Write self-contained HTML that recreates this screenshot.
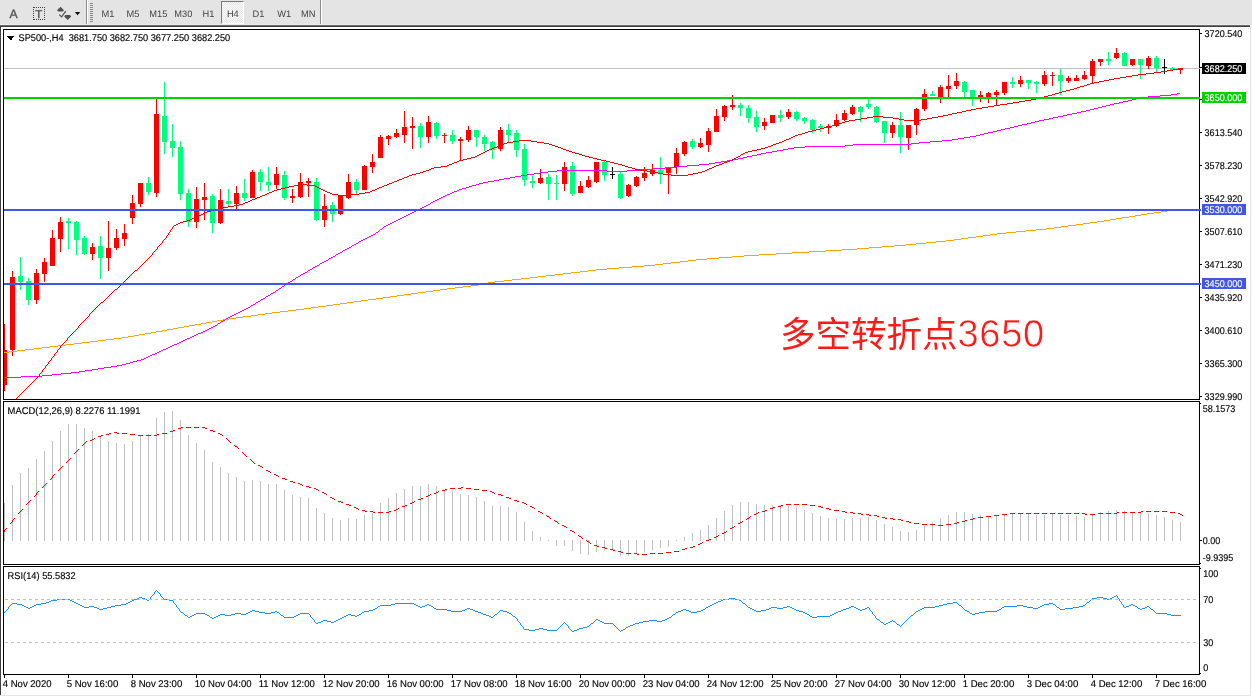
<!DOCTYPE html><html><head><meta charset="utf-8"><title>SP500-,H4</title>
<style>
html,body{margin:0;padding:0;background:#fff;}
body{width:1252px;height:697px;overflow:hidden;position:relative;font-family:"Liberation Sans", sans-serif;}
#tb{position:absolute;left:0;top:0;width:1252px;height:25px;background:#e4e4e4;}
#tb .b{position:absolute;top:1px;height:25px;line-height:26px;width:25px;text-align:center;font-size:9.3px;color:#444;}
#win{position:absolute;left:0;top:25px;width:1252px;height:672px;background:#fff;}
svg{position:absolute;left:0;top:0;will-change:transform;}
.t{font-family:"Liberation Sans", sans-serif;font-size:9.3px;fill:#000;text-rendering:geometricPrecision;}
</style></head><body>
<div id="tb">
<div style="position:absolute;left:33px;top:7px;width:12px;height:13px;border:1px dotted #444;box-sizing:border-box;"></div>
<div style="position:absolute;left:86px;top:0;width:1px;height:25px;background:#8c8c8c;"></div>
<div style="position:absolute;left:87px;top:0;width:1px;height:25px;background:#fff;"></div>
<div style="position:absolute;left:90px;top:3px;width:3px;height:19px;background:repeating-linear-gradient(#8a8a8a 0 1px,#e4e4e4 1px 2px);"></div>
<div style="position:absolute;left:221px;top:1px;width:23px;height:23px;box-sizing:border-box;border:1px solid;border-color:#787878 #fff #fff #787878;background:repeating-conic-gradient(#fbfbfb 0 25%,#e6e6e6 0 50%) 0 0/2px 2px;"></div>
<div style="position:absolute;left:320px;top:0;width:1px;height:25px;background:#8c8c8c;"></div>
<div style="position:absolute;left:321px;top:0;width:1px;height:25px;background:#fff;"></div>
</div>
<div id="win"></div>
<svg width="1252" height="697" viewBox="0 0 1252 697" shape-rendering="crispEdges">
<path d="M60.5 6.8 L64 10.3 L62.8 11.5 L58.2 11.5 L57 10.3 Z" fill="#505050" shape-rendering="auto"/>
<path d="M65.3 15.1 L70 15.1 L71.2 16.4 L67.7 19.9 L64.2 16.4 Z" fill="#505050" shape-rendering="auto"/>
<path d="M59.3 14.6 L61.6 16.9 L65.8 11.2" fill="none" stroke="#505050" stroke-width="1.2" shape-rendering="auto"/>
<path d="M74.8 12 L80.3 12 L77.55 15.3 Z" fill="#111" shape-rendering="auto"/>
<text class="t" x="9.6" y="17.7" style="font-size:12.2px;fill:#555;stroke:#555;stroke-width:0.35px">A</text>
<text class="t" x="35.3" y="17.7" style="font-size:11.4px;fill:#505050;stroke:#505050;stroke-width:0.35px">T</text>
<text class="t" text-anchor="middle" transform="translate(107.90 16.6) scale(0.99 1)" style="font-size:9.4px;fill:#444">M1</text>
<text class="t" text-anchor="middle" transform="translate(133.00 16.6) scale(0.99 1)" style="font-size:9.4px;fill:#444">M5</text>
<text class="t" text-anchor="middle" transform="translate(158.30 16.6) scale(0.99 1)" style="font-size:9.4px;fill:#444">M15</text>
<text class="t" text-anchor="middle" transform="translate(183.40 16.6) scale(0.99 1)" style="font-size:9.4px;fill:#444">M30</text>
<text class="t" text-anchor="middle" transform="translate(208.50 16.6) scale(0.99 1)" style="font-size:9.4px;fill:#444">H1</text>
<text class="t" text-anchor="middle" transform="translate(232.80 16.6) scale(0.99 1)" style="font-size:9.4px;fill:#444">H4</text>
<text class="t" text-anchor="middle" transform="translate(258.50 16.6) scale(0.99 1)" style="font-size:9.4px;fill:#444">D1</text>
<text class="t" text-anchor="middle" transform="translate(284.20 16.6) scale(0.99 1)" style="font-size:9.4px;fill:#444">W1</text>
<text class="t" text-anchor="middle" transform="translate(308.20 16.6) scale(0.99 1)" style="font-size:9.4px;fill:#444">MN</text>
<rect x="0" y="24" width="1252" height="1" fill="#ebebeb"/>
<rect x="0" y="25" width="1250" height="1" fill="#6e6e6e"/>
<rect x="0" y="26" width="1250" height="1" fill="#3e3e3e"/>
<rect x="1250" y="25" width="2" height="2" fill="#f4f4f4"/>
<rect x="0" y="27" width="1" height="668" fill="#404040"/>
<rect x="1250" y="27" width="1" height="669" fill="#e4e4e4"/>
<rect x="0" y="695" width="1251" height="1" fill="#e4e4e4"/>
<rect x="3" y="29" width="1197" height="1" fill="#000"/>
<rect x="3" y="399" width="1197" height="1" fill="#000"/>
<rect x="3" y="29" width="1" height="371" fill="#000"/>
<rect x="1199" y="29" width="1" height="371" fill="#000"/>
<rect x="3" y="401" width="1197" height="1" fill="#000"/>
<rect x="3" y="564" width="1197" height="1" fill="#000"/>
<rect x="3" y="401" width="1" height="164" fill="#000"/>
<rect x="1199" y="401" width="1" height="164" fill="#000"/>
<rect x="3" y="566" width="1197" height="1" fill="#000"/>
<rect x="3" y="674" width="1197" height="1" fill="#000"/>
<rect x="3" y="566" width="1" height="109" fill="#000"/>
<rect x="1199" y="566" width="1" height="109" fill="#000"/>
<rect x="4" y="68" width="1195" height="1" fill="#c0c0c0"/>
<defs><clipPath id="cp"><rect x="4" y="30" width="1195" height="644"/></clipPath></defs><g clip-path="url(#cp)"><rect x="4" y="503" width="1" height="38" fill="#c0c0c0"/>
<rect x="12" y="485" width="1" height="56" fill="#c0c0c0"/>
<rect x="20" y="473" width="1" height="68" fill="#c0c0c0"/>
<rect x="28" y="468" width="1" height="73" fill="#c0c0c0"/>
<rect x="36" y="459" width="1" height="82" fill="#c0c0c0"/>
<rect x="44" y="451" width="1" height="90" fill="#c0c0c0"/>
<rect x="52" y="441" width="1" height="100" fill="#c0c0c0"/>
<rect x="60" y="431" width="1" height="110" fill="#c0c0c0"/>
<rect x="68" y="424" width="1" height="117" fill="#c0c0c0"/>
<rect x="76" y="424" width="1" height="117" fill="#c0c0c0"/>
<rect x="84" y="428" width="1" height="113" fill="#c0c0c0"/>
<rect x="92" y="431" width="1" height="110" fill="#c0c0c0"/>
<rect x="100" y="437" width="1" height="104" fill="#c0c0c0"/>
<rect x="108" y="441" width="1" height="100" fill="#c0c0c0"/>
<rect x="116" y="443" width="1" height="98" fill="#c0c0c0"/>
<rect x="124" y="444" width="1" height="97" fill="#c0c0c0"/>
<rect x="132" y="441" width="1" height="100" fill="#c0c0c0"/>
<rect x="140" y="436" width="1" height="105" fill="#c0c0c0"/>
<rect x="148" y="434" width="1" height="107" fill="#c0c0c0"/>
<rect x="156" y="418" width="1" height="123" fill="#c0c0c0"/>
<rect x="164" y="412" width="1" height="129" fill="#c0c0c0"/>
<rect x="172" y="411" width="1" height="130" fill="#c0c0c0"/>
<rect x="180" y="420" width="1" height="121" fill="#c0c0c0"/>
<rect x="188" y="435" width="1" height="106" fill="#c0c0c0"/>
<rect x="196" y="443" width="1" height="98" fill="#c0c0c0"/>
<rect x="204" y="450" width="1" height="91" fill="#c0c0c0"/>
<rect x="212" y="462" width="1" height="79" fill="#c0c0c0"/>
<rect x="220" y="467" width="1" height="74" fill="#c0c0c0"/>
<rect x="228" y="473" width="1" height="68" fill="#c0c0c0"/>
<rect x="236" y="477" width="1" height="64" fill="#c0c0c0"/>
<rect x="244" y="481" width="1" height="60" fill="#c0c0c0"/>
<rect x="252" y="480" width="1" height="61" fill="#c0c0c0"/>
<rect x="260" y="481" width="1" height="60" fill="#c0c0c0"/>
<rect x="268" y="484" width="1" height="57" fill="#c0c0c0"/>
<rect x="276" y="484" width="1" height="57" fill="#c0c0c0"/>
<rect x="284" y="490" width="1" height="51" fill="#c0c0c0"/>
<rect x="292" y="495" width="1" height="46" fill="#c0c0c0"/>
<rect x="300" y="497" width="1" height="44" fill="#c0c0c0"/>
<rect x="308" y="498" width="1" height="43" fill="#c0c0c0"/>
<rect x="316" y="508" width="1" height="33" fill="#c0c0c0"/>
<rect x="324" y="513" width="1" height="28" fill="#c0c0c0"/>
<rect x="332" y="518" width="1" height="23" fill="#c0c0c0"/>
<rect x="340" y="520" width="1" height="21" fill="#c0c0c0"/>
<rect x="348" y="518" width="1" height="23" fill="#c0c0c0"/>
<rect x="356" y="519" width="1" height="22" fill="#c0c0c0"/>
<rect x="364" y="515" width="1" height="26" fill="#c0c0c0"/>
<rect x="372" y="513" width="1" height="28" fill="#c0c0c0"/>
<rect x="380" y="503" width="1" height="38" fill="#c0c0c0"/>
<rect x="388" y="498" width="1" height="43" fill="#c0c0c0"/>
<rect x="396" y="493" width="1" height="48" fill="#c0c0c0"/>
<rect x="404" y="489" width="1" height="52" fill="#c0c0c0"/>
<rect x="412" y="486" width="1" height="55" fill="#c0c0c0"/>
<rect x="420" y="486" width="1" height="55" fill="#c0c0c0"/>
<rect x="428" y="484" width="1" height="57" fill="#c0c0c0"/>
<rect x="436" y="486" width="1" height="55" fill="#c0c0c0"/>
<rect x="444" y="490" width="1" height="51" fill="#c0c0c0"/>
<rect x="452" y="491" width="1" height="50" fill="#c0c0c0"/>
<rect x="460" y="494" width="1" height="47" fill="#c0c0c0"/>
<rect x="468" y="495" width="1" height="46" fill="#c0c0c0"/>
<rect x="476" y="497" width="1" height="44" fill="#c0c0c0"/>
<rect x="484" y="501" width="1" height="40" fill="#c0c0c0"/>
<rect x="492" y="506" width="1" height="35" fill="#c0c0c0"/>
<rect x="500" y="506" width="1" height="35" fill="#c0c0c0"/>
<rect x="508" y="507" width="1" height="34" fill="#c0c0c0"/>
<rect x="516" y="512" width="1" height="29" fill="#c0c0c0"/>
<rect x="524" y="522" width="1" height="19" fill="#c0c0c0"/>
<rect x="532" y="531" width="1" height="10" fill="#c0c0c0"/>
<rect x="540" y="537" width="1" height="4" fill="#c0c0c0"/>
<rect x="548" y="540" width="1" height="1" fill="#c0c0c0"/>
<rect x="556" y="540" width="1" height="6" fill="#c0c0c0"/>
<rect x="564" y="540" width="1" height="6" fill="#c0c0c0"/>
<rect x="572" y="540" width="1" height="11" fill="#c0c0c0"/>
<rect x="580" y="540" width="1" height="14" fill="#c0c0c0"/>
<rect x="588" y="540" width="1" height="15" fill="#c0c0c0"/>
<rect x="596" y="540" width="1" height="12" fill="#c0c0c0"/>
<rect x="604" y="540" width="1" height="11" fill="#c0c0c0"/>
<rect x="612" y="540" width="1" height="10" fill="#c0c0c0"/>
<rect x="620" y="540" width="1" height="16" fill="#c0c0c0"/>
<rect x="628" y="540" width="1" height="16" fill="#c0c0c0"/>
<rect x="636" y="540" width="1" height="14" fill="#c0c0c0"/>
<rect x="644" y="540" width="1" height="12" fill="#c0c0c0"/>
<rect x="652" y="540" width="1" height="10" fill="#c0c0c0"/>
<rect x="660" y="540" width="1" height="8" fill="#c0c0c0"/>
<rect x="668" y="540" width="1" height="7" fill="#c0c0c0"/>
<rect x="676" y="540" width="1" height="1" fill="#c0c0c0"/>
<rect x="684" y="537" width="1" height="4" fill="#c0c0c0"/>
<rect x="692" y="533" width="1" height="8" fill="#c0c0c0"/>
<rect x="700" y="530" width="1" height="11" fill="#c0c0c0"/>
<rect x="708" y="525" width="1" height="16" fill="#c0c0c0"/>
<rect x="716" y="518" width="1" height="23" fill="#c0c0c0"/>
<rect x="724" y="511" width="1" height="30" fill="#c0c0c0"/>
<rect x="732" y="505" width="1" height="36" fill="#c0c0c0"/>
<rect x="740" y="502" width="1" height="39" fill="#c0c0c0"/>
<rect x="748" y="502" width="1" height="39" fill="#c0c0c0"/>
<rect x="756" y="504" width="1" height="37" fill="#c0c0c0"/>
<rect x="764" y="505" width="1" height="36" fill="#c0c0c0"/>
<rect x="772" y="505" width="1" height="36" fill="#c0c0c0"/>
<rect x="780" y="505" width="1" height="36" fill="#c0c0c0"/>
<rect x="788" y="506" width="1" height="35" fill="#c0c0c0"/>
<rect x="796" y="507" width="1" height="34" fill="#c0c0c0"/>
<rect x="804" y="510" width="1" height="31" fill="#c0c0c0"/>
<rect x="812" y="513" width="1" height="28" fill="#c0c0c0"/>
<rect x="820" y="516" width="1" height="25" fill="#c0c0c0"/>
<rect x="828" y="518" width="1" height="23" fill="#c0c0c0"/>
<rect x="836" y="519" width="1" height="22" fill="#c0c0c0"/>
<rect x="844" y="519" width="1" height="22" fill="#c0c0c0"/>
<rect x="852" y="518" width="1" height="23" fill="#c0c0c0"/>
<rect x="860" y="518" width="1" height="23" fill="#c0c0c0"/>
<rect x="868" y="517" width="1" height="24" fill="#c0c0c0"/>
<rect x="876" y="520" width="1" height="21" fill="#c0c0c0"/>
<rect x="884" y="524" width="1" height="17" fill="#c0c0c0"/>
<rect x="892" y="527" width="1" height="14" fill="#c0c0c0"/>
<rect x="900" y="531" width="1" height="10" fill="#c0c0c0"/>
<rect x="908" y="532" width="1" height="9" fill="#c0c0c0"/>
<rect x="916" y="530" width="1" height="11" fill="#c0c0c0"/>
<rect x="924" y="526" width="1" height="15" fill="#c0c0c0"/>
<rect x="932" y="522" width="1" height="19" fill="#c0c0c0"/>
<rect x="940" y="518" width="1" height="23" fill="#c0c0c0"/>
<rect x="948" y="515" width="1" height="26" fill="#c0c0c0"/>
<rect x="956" y="512" width="1" height="29" fill="#c0c0c0"/>
<rect x="964" y="512" width="1" height="29" fill="#c0c0c0"/>
<rect x="972" y="514" width="1" height="27" fill="#c0c0c0"/>
<rect x="980" y="515" width="1" height="26" fill="#c0c0c0"/>
<rect x="988" y="517" width="1" height="24" fill="#c0c0c0"/>
<rect x="996" y="516" width="1" height="25" fill="#c0c0c0"/>
<rect x="1004" y="515" width="1" height="26" fill="#c0c0c0"/>
<rect x="1012" y="514" width="1" height="27" fill="#c0c0c0"/>
<rect x="1020" y="514" width="1" height="27" fill="#c0c0c0"/>
<rect x="1028" y="514" width="1" height="27" fill="#c0c0c0"/>
<rect x="1036" y="515" width="1" height="26" fill="#c0c0c0"/>
<rect x="1044" y="515" width="1" height="26" fill="#c0c0c0"/>
<rect x="1052" y="514" width="1" height="27" fill="#c0c0c0"/>
<rect x="1060" y="515" width="1" height="26" fill="#c0c0c0"/>
<rect x="1068" y="515" width="1" height="26" fill="#c0c0c0"/>
<rect x="1076" y="516" width="1" height="25" fill="#c0c0c0"/>
<rect x="1084" y="517" width="1" height="24" fill="#c0c0c0"/>
<rect x="1092" y="515" width="1" height="26" fill="#c0c0c0"/>
<rect x="1100" y="512" width="1" height="29" fill="#c0c0c0"/>
<rect x="1108" y="511" width="1" height="30" fill="#c0c0c0"/>
<rect x="1116" y="510" width="1" height="31" fill="#c0c0c0"/>
<rect x="1124" y="511" width="1" height="30" fill="#c0c0c0"/>
<rect x="1132" y="512" width="1" height="29" fill="#c0c0c0"/>
<rect x="1140" y="513" width="1" height="28" fill="#c0c0c0"/>
<rect x="1148" y="513" width="1" height="28" fill="#c0c0c0"/>
<rect x="1156" y="515" width="1" height="26" fill="#c0c0c0"/>
<rect x="1164" y="517" width="1" height="24" fill="#c0c0c0"/>
<rect x="1172" y="520" width="1" height="21" fill="#c0c0c0"/>
<rect x="1180" y="522" width="1" height="19" fill="#c0c0c0"/>
<rect x="4" y="324" width="1" height="67" fill="#ff0000"/>
<rect x="2" y="350" width="5" height="35" fill="#ff0000"/>
<rect x="12" y="271" width="1" height="85" fill="#ff0000"/>
<rect x="10" y="277" width="5" height="73" fill="#ff0000"/>
<rect x="20" y="257" width="1" height="33" fill="#00ff7f"/>
<rect x="18" y="276" width="5" height="6" fill="#00ff7f"/>
<rect x="28" y="278" width="1" height="27" fill="#00ff7f"/>
<rect x="26" y="281" width="5" height="19" fill="#00ff7f"/>
<rect x="36" y="269" width="1" height="35" fill="#ff0000"/>
<rect x="34" y="273" width="5" height="27" fill="#ff0000"/>
<rect x="44" y="258" width="1" height="24" fill="#ff0000"/>
<rect x="42" y="262" width="5" height="12" fill="#ff0000"/>
<rect x="52" y="230" width="1" height="36" fill="#ff0000"/>
<rect x="50" y="238" width="5" height="28" fill="#ff0000"/>
<rect x="60" y="217" width="1" height="35" fill="#ff0000"/>
<rect x="58" y="222" width="5" height="17" fill="#ff0000"/>
<rect x="68" y="218" width="1" height="31" fill="#00ff7f"/>
<rect x="66" y="221" width="5" height="2" fill="#00ff7f"/>
<rect x="76" y="221" width="1" height="34" fill="#00ff7f"/>
<rect x="74" y="222" width="5" height="18" fill="#00ff7f"/>
<rect x="84" y="236" width="1" height="19" fill="#00ff7f"/>
<rect x="82" y="238" width="5" height="16" fill="#00ff7f"/>
<rect x="92" y="243" width="1" height="17" fill="#ff0000"/>
<rect x="90" y="247" width="5" height="7" fill="#ff0000"/>
<rect x="100" y="236" width="1" height="43" fill="#00ff7f"/>
<rect x="98" y="246" width="5" height="12" fill="#00ff7f"/>
<rect x="108" y="221" width="1" height="50" fill="#ff0000"/>
<rect x="106" y="248" width="5" height="10" fill="#ff0000"/>
<rect x="116" y="229" width="1" height="21" fill="#ff0000"/>
<rect x="114" y="238" width="5" height="10" fill="#ff0000"/>
<rect x="124" y="224" width="1" height="22" fill="#ff0000"/>
<rect x="122" y="233" width="5" height="6" fill="#ff0000"/>
<rect x="132" y="195" width="1" height="29" fill="#ff0000"/>
<rect x="130" y="203" width="5" height="15" fill="#ff0000"/>
<rect x="140" y="183" width="1" height="24" fill="#ff0000"/>
<rect x="138" y="183" width="5" height="21" fill="#ff0000"/>
<rect x="148" y="177" width="1" height="18" fill="#00ff7f"/>
<rect x="146" y="183" width="5" height="9" fill="#00ff7f"/>
<rect x="156" y="97" width="1" height="100" fill="#ff0000"/>
<rect x="154" y="114" width="5" height="79" fill="#ff0000"/>
<rect x="164" y="82" width="1" height="72" fill="#00ff7f"/>
<rect x="162" y="116" width="5" height="26" fill="#00ff7f"/>
<rect x="172" y="124" width="1" height="33" fill="#00ff7f"/>
<rect x="170" y="141" width="5" height="7" fill="#00ff7f"/>
<rect x="180" y="141" width="1" height="59" fill="#00ff7f"/>
<rect x="178" y="147" width="5" height="47" fill="#00ff7f"/>
<rect x="188" y="189" width="1" height="38" fill="#00ff7f"/>
<rect x="186" y="193" width="5" height="29" fill="#00ff7f"/>
<rect x="196" y="187" width="1" height="41" fill="#ff0000"/>
<rect x="194" y="199" width="5" height="23" fill="#ff0000"/>
<rect x="204" y="183" width="1" height="37" fill="#ff0000"/>
<rect x="202" y="197" width="5" height="3" fill="#ff0000"/>
<rect x="212" y="194" width="1" height="39" fill="#00ff7f"/>
<rect x="210" y="196" width="5" height="27" fill="#00ff7f"/>
<rect x="220" y="189" width="1" height="35" fill="#ff0000"/>
<rect x="218" y="200" width="5" height="23" fill="#ff0000"/>
<rect x="228" y="189" width="1" height="18" fill="#00ff7f"/>
<rect x="226" y="201" width="5" height="3" fill="#00ff7f"/>
<rect x="236" y="186" width="1" height="23" fill="#ff0000"/>
<rect x="234" y="193" width="5" height="11" fill="#ff0000"/>
<rect x="244" y="179" width="1" height="22" fill="#00ff7f"/>
<rect x="242" y="193" width="5" height="5" fill="#00ff7f"/>
<rect x="252" y="170" width="1" height="28" fill="#ff0000"/>
<rect x="250" y="172" width="5" height="26" fill="#ff0000"/>
<rect x="260" y="169" width="1" height="22" fill="#00ff7f"/>
<rect x="258" y="172" width="5" height="10" fill="#00ff7f"/>
<rect x="268" y="167" width="1" height="24" fill="#00ff7f"/>
<rect x="266" y="182" width="5" height="3" fill="#00ff7f"/>
<rect x="276" y="167" width="1" height="22" fill="#ff0000"/>
<rect x="274" y="174" width="5" height="11" fill="#ff0000"/>
<rect x="284" y="171" width="1" height="29" fill="#00ff7f"/>
<rect x="282" y="175" width="5" height="23" fill="#00ff7f"/>
<rect x="292" y="189" width="1" height="14" fill="#ff0000"/>
<rect x="290" y="196" width="5" height="2" fill="#ff0000"/>
<rect x="300" y="173" width="1" height="25" fill="#ff0000"/>
<rect x="298" y="182" width="5" height="15" fill="#ff0000"/>
<rect x="308" y="178" width="1" height="19" fill="#ff0000"/>
<rect x="306" y="181" width="5" height="2" fill="#ff0000"/>
<rect x="316" y="178" width="1" height="43" fill="#00ff7f"/>
<rect x="314" y="182" width="5" height="38" fill="#00ff7f"/>
<rect x="324" y="194" width="1" height="33" fill="#ff0000"/>
<rect x="322" y="206" width="5" height="14" fill="#ff0000"/>
<rect x="332" y="202" width="1" height="20" fill="#00ff7f"/>
<rect x="330" y="205" width="5" height="9" fill="#00ff7f"/>
<rect x="340" y="196" width="1" height="19" fill="#ff0000"/>
<rect x="338" y="196" width="5" height="18" fill="#ff0000"/>
<rect x="348" y="174" width="1" height="25" fill="#ff0000"/>
<rect x="346" y="182" width="5" height="16" fill="#ff0000"/>
<rect x="356" y="179" width="1" height="15" fill="#00ff7f"/>
<rect x="354" y="182" width="5" height="8" fill="#00ff7f"/>
<rect x="364" y="165" width="1" height="25" fill="#ff0000"/>
<rect x="362" y="166" width="5" height="24" fill="#ff0000"/>
<rect x="372" y="154" width="1" height="19" fill="#ff0000"/>
<rect x="370" y="162" width="5" height="5" fill="#ff0000"/>
<rect x="380" y="135" width="1" height="23" fill="#ff0000"/>
<rect x="378" y="137" width="5" height="21" fill="#ff0000"/>
<rect x="388" y="135" width="1" height="10" fill="#ff0000"/>
<rect x="386" y="136" width="5" height="3" fill="#ff0000"/>
<rect x="396" y="129" width="1" height="9" fill="#ff0000"/>
<rect x="394" y="133" width="5" height="4" fill="#ff0000"/>
<rect x="404" y="111" width="1" height="32" fill="#ff0000"/>
<rect x="402" y="127" width="5" height="8" fill="#ff0000"/>
<rect x="412" y="117" width="1" height="32" fill="#ff0000"/>
<rect x="410" y="126" width="5" height="2" fill="#ff0000"/>
<rect x="420" y="123" width="1" height="25" fill="#00ff7f"/>
<rect x="418" y="126" width="5" height="11" fill="#00ff7f"/>
<rect x="428" y="116" width="1" height="27" fill="#ff0000"/>
<rect x="426" y="122" width="5" height="15" fill="#ff0000"/>
<rect x="436" y="122" width="1" height="17" fill="#00ff7f"/>
<rect x="434" y="123" width="5" height="13" fill="#00ff7f"/>
<rect x="444" y="133" width="1" height="10" fill="#ff0000"/>
<rect x="442" y="135" width="5" height="1" fill="#ff0000"/>
<rect x="452" y="130" width="1" height="14" fill="#00ff7f"/>
<rect x="450" y="135" width="5" height="6" fill="#00ff7f"/>
<rect x="460" y="137" width="1" height="23" fill="#ff0000"/>
<rect x="458" y="139" width="5" height="2" fill="#ff0000"/>
<rect x="468" y="126" width="1" height="16" fill="#ff0000"/>
<rect x="466" y="130" width="5" height="10" fill="#ff0000"/>
<rect x="476" y="130" width="1" height="17" fill="#00ff7f"/>
<rect x="474" y="130" width="5" height="7" fill="#00ff7f"/>
<rect x="484" y="135" width="1" height="16" fill="#00ff7f"/>
<rect x="482" y="137" width="5" height="7" fill="#00ff7f"/>
<rect x="492" y="141" width="1" height="18" fill="#00ff7f"/>
<rect x="490" y="142" width="5" height="8" fill="#00ff7f"/>
<rect x="500" y="127" width="1" height="24" fill="#ff0000"/>
<rect x="498" y="130" width="5" height="19" fill="#ff0000"/>
<rect x="508" y="124" width="1" height="18" fill="#00ff7f"/>
<rect x="506" y="130" width="5" height="5" fill="#00ff7f"/>
<rect x="516" y="130" width="1" height="27" fill="#00ff7f"/>
<rect x="514" y="133" width="5" height="17" fill="#00ff7f"/>
<rect x="524" y="144" width="1" height="42" fill="#00ff7f"/>
<rect x="522" y="149" width="5" height="31" fill="#00ff7f"/>
<rect x="532" y="176" width="1" height="12" fill="#00ff7f"/>
<rect x="530" y="181" width="5" height="2" fill="#00ff7f"/>
<rect x="540" y="169" width="1" height="15" fill="#ff0000"/>
<rect x="538" y="178" width="5" height="5" fill="#ff0000"/>
<rect x="548" y="174" width="1" height="26" fill="#00ff7f"/>
<rect x="546" y="177" width="5" height="7" fill="#00ff7f"/>
<rect x="556" y="175" width="1" height="25" fill="#00ff7f"/>
<rect x="554" y="183" width="5" height="1" fill="#00ff7f"/>
<rect x="564" y="162" width="1" height="29" fill="#ff0000"/>
<rect x="562" y="167" width="5" height="17" fill="#ff0000"/>
<rect x="572" y="162" width="1" height="34" fill="#00ff7f"/>
<rect x="570" y="166" width="5" height="28" fill="#00ff7f"/>
<rect x="580" y="181" width="1" height="12" fill="#ff0000"/>
<rect x="578" y="186" width="5" height="7" fill="#ff0000"/>
<rect x="588" y="176" width="1" height="12" fill="#ff0000"/>
<rect x="586" y="180" width="5" height="7" fill="#ff0000"/>
<rect x="596" y="162" width="1" height="21" fill="#ff0000"/>
<rect x="594" y="162" width="5" height="20" fill="#ff0000"/>
<rect x="604" y="161" width="1" height="20" fill="#00ff7f"/>
<rect x="602" y="162" width="5" height="13" fill="#00ff7f"/>
<rect x="612" y="167" width="1" height="12" fill="#000000"/>
<rect x="610" y="174" width="5" height="1" fill="#000000"/>
<rect x="620" y="172" width="1" height="27" fill="#00ff7f"/>
<rect x="618" y="174" width="5" height="24" fill="#00ff7f"/>
<rect x="628" y="184" width="1" height="13" fill="#ff0000"/>
<rect x="626" y="185" width="5" height="11" fill="#ff0000"/>
<rect x="636" y="176" width="1" height="11" fill="#ff0000"/>
<rect x="634" y="177" width="5" height="9" fill="#ff0000"/>
<rect x="644" y="167" width="1" height="14" fill="#ff0000"/>
<rect x="642" y="173" width="5" height="5" fill="#ff0000"/>
<rect x="652" y="164" width="1" height="12" fill="#ff0000"/>
<rect x="650" y="170" width="5" height="4" fill="#ff0000"/>
<rect x="660" y="157" width="1" height="27" fill="#00ff7f"/>
<rect x="658" y="170" width="5" height="3" fill="#00ff7f"/>
<rect x="668" y="167" width="1" height="27" fill="#ff0000"/>
<rect x="666" y="168" width="5" height="5" fill="#ff0000"/>
<rect x="676" y="148" width="1" height="26" fill="#ff0000"/>
<rect x="674" y="153" width="5" height="14" fill="#ff0000"/>
<rect x="684" y="141" width="1" height="15" fill="#ff0000"/>
<rect x="682" y="142" width="5" height="12" fill="#ff0000"/>
<rect x="692" y="139" width="1" height="10" fill="#00ff7f"/>
<rect x="690" y="141" width="5" height="6" fill="#00ff7f"/>
<rect x="700" y="138" width="1" height="10" fill="#ff0000"/>
<rect x="698" y="143" width="5" height="4" fill="#ff0000"/>
<rect x="708" y="128" width="1" height="24" fill="#ff0000"/>
<rect x="706" y="131" width="5" height="14" fill="#ff0000"/>
<rect x="716" y="109" width="1" height="23" fill="#ff0000"/>
<rect x="714" y="116" width="5" height="16" fill="#ff0000"/>
<rect x="724" y="105" width="1" height="16" fill="#ff0000"/>
<rect x="722" y="106" width="5" height="11" fill="#ff0000"/>
<rect x="732" y="95" width="1" height="15" fill="#ff0000"/>
<rect x="730" y="105" width="5" height="2" fill="#ff0000"/>
<rect x="740" y="103" width="1" height="13" fill="#00ff7f"/>
<rect x="738" y="105" width="5" height="3" fill="#00ff7f"/>
<rect x="748" y="105" width="1" height="18" fill="#00ff7f"/>
<rect x="746" y="108" width="5" height="10" fill="#00ff7f"/>
<rect x="756" y="111" width="1" height="21" fill="#00ff7f"/>
<rect x="754" y="117" width="5" height="10" fill="#00ff7f"/>
<rect x="764" y="118" width="1" height="12" fill="#ff0000"/>
<rect x="762" y="122" width="5" height="4" fill="#ff0000"/>
<rect x="772" y="115" width="1" height="8" fill="#ff0000"/>
<rect x="770" y="115" width="5" height="8" fill="#ff0000"/>
<rect x="780" y="110" width="1" height="12" fill="#00ff7f"/>
<rect x="778" y="115" width="5" height="3" fill="#00ff7f"/>
<rect x="788" y="109" width="1" height="10" fill="#ff0000"/>
<rect x="786" y="112" width="5" height="5" fill="#ff0000"/>
<rect x="796" y="111" width="1" height="10" fill="#00ff7f"/>
<rect x="794" y="112" width="5" height="7" fill="#00ff7f"/>
<rect x="804" y="117" width="1" height="7" fill="#00ff7f"/>
<rect x="802" y="118" width="5" height="3" fill="#00ff7f"/>
<rect x="812" y="119" width="1" height="14" fill="#00ff7f"/>
<rect x="810" y="120" width="5" height="10" fill="#00ff7f"/>
<rect x="820" y="124" width="1" height="8" fill="#00ff7f"/>
<rect x="818" y="126" width="5" height="2" fill="#00ff7f"/>
<rect x="828" y="124" width="1" height="10" fill="#ff0000"/>
<rect x="826" y="126" width="5" height="2" fill="#ff0000"/>
<rect x="836" y="114" width="1" height="13" fill="#ff0000"/>
<rect x="834" y="120" width="5" height="6" fill="#ff0000"/>
<rect x="844" y="110" width="1" height="11" fill="#ff0000"/>
<rect x="842" y="113" width="5" height="7" fill="#ff0000"/>
<rect x="852" y="105" width="1" height="10" fill="#ff0000"/>
<rect x="850" y="107" width="5" height="7" fill="#ff0000"/>
<rect x="860" y="106" width="1" height="16" fill="#00ff7f"/>
<rect x="858" y="107" width="5" height="5" fill="#00ff7f"/>
<rect x="868" y="99" width="1" height="10" fill="#00ff7f"/>
<rect x="866" y="104" width="5" height="3" fill="#00ff7f"/>
<rect x="876" y="106" width="1" height="17" fill="#00ff7f"/>
<rect x="874" y="107" width="5" height="15" fill="#00ff7f"/>
<rect x="884" y="121" width="1" height="22" fill="#00ff7f"/>
<rect x="882" y="121" width="5" height="12" fill="#00ff7f"/>
<rect x="892" y="122" width="1" height="16" fill="#ff0000"/>
<rect x="890" y="125" width="5" height="8" fill="#ff0000"/>
<rect x="900" y="112" width="1" height="41" fill="#00ff7f"/>
<rect x="898" y="125" width="5" height="12" fill="#00ff7f"/>
<rect x="908" y="125" width="1" height="25" fill="#ff0000"/>
<rect x="906" y="125" width="5" height="13" fill="#ff0000"/>
<rect x="916" y="108" width="1" height="27" fill="#ff0000"/>
<rect x="914" y="109" width="5" height="16" fill="#ff0000"/>
<rect x="924" y="89" width="1" height="22" fill="#ff0000"/>
<rect x="922" y="94" width="5" height="15" fill="#ff0000"/>
<rect x="932" y="91" width="1" height="5" fill="#00ff7f"/>
<rect x="930" y="94" width="5" height="2" fill="#00ff7f"/>
<rect x="940" y="85" width="1" height="18" fill="#ff0000"/>
<rect x="938" y="87" width="5" height="10" fill="#ff0000"/>
<rect x="948" y="75" width="1" height="22" fill="#ff0000"/>
<rect x="946" y="86" width="5" height="3" fill="#ff0000"/>
<rect x="956" y="73" width="1" height="16" fill="#ff0000"/>
<rect x="954" y="81" width="5" height="5" fill="#ff0000"/>
<rect x="964" y="81" width="1" height="16" fill="#00ff7f"/>
<rect x="962" y="82" width="5" height="10" fill="#00ff7f"/>
<rect x="972" y="90" width="1" height="16" fill="#00ff7f"/>
<rect x="970" y="90" width="5" height="7" fill="#00ff7f"/>
<rect x="980" y="91" width="1" height="11" fill="#ff0000"/>
<rect x="978" y="95" width="5" height="2" fill="#ff0000"/>
<rect x="988" y="92" width="1" height="11" fill="#ff0000"/>
<rect x="986" y="93" width="5" height="4" fill="#ff0000"/>
<rect x="996" y="90" width="1" height="16" fill="#ff0000"/>
<rect x="994" y="92" width="5" height="3" fill="#ff0000"/>
<rect x="1004" y="82" width="1" height="13" fill="#ff0000"/>
<rect x="1002" y="82" width="5" height="11" fill="#ff0000"/>
<rect x="1012" y="77" width="1" height="11" fill="#00ff7f"/>
<rect x="1010" y="82" width="5" height="2" fill="#00ff7f"/>
<rect x="1020" y="76" width="1" height="11" fill="#ff0000"/>
<rect x="1018" y="80" width="5" height="4" fill="#ff0000"/>
<rect x="1028" y="80" width="1" height="9" fill="#00ff7f"/>
<rect x="1026" y="80" width="5" height="3" fill="#00ff7f"/>
<rect x="1036" y="81" width="1" height="12" fill="#00ff7f"/>
<rect x="1034" y="82" width="5" height="2" fill="#00ff7f"/>
<rect x="1044" y="71" width="1" height="15" fill="#ff0000"/>
<rect x="1042" y="75" width="5" height="9" fill="#ff0000"/>
<rect x="1052" y="72" width="1" height="14" fill="#ff0000"/>
<rect x="1050" y="75" width="5" height="1" fill="#ff0000"/>
<rect x="1060" y="69" width="1" height="26" fill="#00ff7f"/>
<rect x="1058" y="75" width="5" height="6" fill="#00ff7f"/>
<rect x="1068" y="76" width="1" height="7" fill="#ff0000"/>
<rect x="1066" y="78" width="5" height="3" fill="#ff0000"/>
<rect x="1076" y="75" width="1" height="6" fill="#ff0000"/>
<rect x="1074" y="78" width="5" height="3" fill="#ff0000"/>
<rect x="1084" y="71" width="1" height="9" fill="#ff0000"/>
<rect x="1082" y="75" width="5" height="4" fill="#ff0000"/>
<rect x="1092" y="59" width="1" height="24" fill="#ff0000"/>
<rect x="1090" y="61" width="5" height="15" fill="#ff0000"/>
<rect x="1100" y="59" width="1" height="7" fill="#ff0000"/>
<rect x="1098" y="59" width="5" height="3" fill="#ff0000"/>
<rect x="1108" y="52" width="1" height="13" fill="#00ff7f"/>
<rect x="1106" y="59" width="5" height="2" fill="#00ff7f"/>
<rect x="1116" y="48" width="1" height="11" fill="#ff0000"/>
<rect x="1114" y="53" width="5" height="5" fill="#ff0000"/>
<rect x="1124" y="52" width="1" height="14" fill="#00ff7f"/>
<rect x="1122" y="53" width="5" height="13" fill="#00ff7f"/>
<rect x="1132" y="59" width="1" height="7" fill="#ff0000"/>
<rect x="1130" y="59" width="5" height="6" fill="#ff0000"/>
<rect x="1140" y="59" width="1" height="20" fill="#00ff7f"/>
<rect x="1138" y="59" width="5" height="6" fill="#00ff7f"/>
<rect x="1148" y="56" width="1" height="13" fill="#ff0000"/>
<rect x="1146" y="58" width="5" height="8" fill="#ff0000"/>
<rect x="1156" y="56" width="1" height="16" fill="#00ff7f"/>
<rect x="1154" y="58" width="5" height="10" fill="#00ff7f"/>
<rect x="1164" y="59" width="1" height="15" fill="#000000"/>
<rect x="1162" y="67" width="5" height="1" fill="#000000"/>
<rect x="1172" y="67" width="1" height="3" fill="#00ff7f"/>
<rect x="1170" y="68" width="5" height="2" fill="#00ff7f"/>
<rect x="1180" y="68" width="1" height="6" fill="#ff0000"/>
<rect x="1178" y="68" width="5" height="2" fill="#ff0000"/>
<path d="M4 352.5h5M9 351.5h8M17 350.5h8M25 349.5h9M34 348.5h8M42 347.5h8M50 346.5h8M58 345.5h8M66 344.5h8M74 343.5h8M82 342.5h8M90 341.5h8M98 340.5h8M106 339.5h8M114 338.5h8M122 337.5h6M128 336.5h6M134 335.5h5M139 334.5h6M145 333.5h6M151 332.5h5M156 331.5h6M162 330.5h5M167 329.5h6M173 328.5h5M178 327.5h6M184 326.5h5M189 325.5h6M195 324.5h6M201 323.5h5M206 322.5h6M212 321.5h5M217 320.5h6M223 319.5h6M229 318.5h7M236 317.5h7M243 316.5h8M251 315.5h7M258 314.5h7M265 313.5h7M272 312.5h8M280 311.5h8M288 310.5h8M296 309.5h8M304 308.5h7M311 307.5h7M318 306.5h8M326 305.5h7M333 304.5h7M340 303.5h7M347 302.5h7M354 301.5h7M361 300.5h7M368 299.5h8M376 298.5h7M383 297.5h7M390 296.5h7M397 295.5h7M404 294.5h7M411 293.5h7M418 292.5h8M426 291.5h7M433 290.5h7M440 289.5h7M447 288.5h8M455 287.5h8M463 286.5h8M471 285.5h7M478 284.5h5M483 283.5h5M488 282.5h7M495 281.5h9M504 280.5h8M512 279.5h9M521 278.5h9M530 277.5h8M538 276.5h8M546 275.5h9M555 274.5h8M563 273.5h8M571 272.5h9M580 271.5h8M588 270.5h8M596 269.5h11M607 268.5h12M619 267.5h13M632 266.5h12M644 265.5h11M655 264.5h8M663 263.5h8M671 262.5h9M680 261.5h8M688 260.5h8M696 259.5h11M707 258.5h12M719 257.5h13M732 256.5h12M744 255.5h15M759 254.5h17M776 253.5h16M792 252.5h17M809 251.5h17M826 250.5h16M842 249.5h15M857 248.5h12M869 247.5h13M882 246.5h12M894 245.5h12M906 244.5h10M916 243.5h10M926 242.5h10M936 241.5h10M946 240.5h8M954 239.5h7M961 238.5h7M968 237.5h8M976 236.5h7M983 235.5h7M990 234.5h7M997 233.5h9M1006 232.5h10M1016 231.5h10M1026 230.5h10M1036 229.5h10M1046 228.5h8M1054 227.5h7M1061 226.5h7M1068 225.5h8M1076 224.5h7M1083 223.5h7M1090 222.5h7M1097 221.5h7M1104 220.5h6M1110 219.5h6M1116 218.5h6M1122 217.5h7M1129 216.5h6M1135 215.5h6M1141 214.5h6M1147 213.5h7M1154 212.5h7M1161 211.5h6M1167 210.5h9M1176 209.5h5" fill="none" stroke="#ffa500" stroke-width="1" shape-rendering="crispEdges"/>
<path d="M4 377.5h17M21 376.5h21M42 375.5h10M52 374.5h9M61 373.5h10M71 372.5h8M79 371.5h6M85 370.5h7M92 369.5h6M98 368.5h6M104 367.5h7M111 366.5h6M117 365.5h5M122 364.5h4M126 363.5h4M130 362.5h3M133 361.5h4M137 360.5h4M141 359.5h3M144 358.5h2M146 357.5h2M148 356.5h2M150 355.5h2M152 354.5h3M155 353.5h2M157 352.5h2M159 351.5h2M161 350.5h2M163 349.5h3M166 348.5h2M168 347.5h2M170 346.5h2M172 345.5h2M174 344.5h3M177 343.5h2M179 342.5h2M181 341.5h2M183 340.5h2M185 339.5h2M187 338.5h3M190 337.5h2M192 336.5h2M194 335.5h2M196 334.5h2M198 333.5h3M201 332.5h2M203 331.5h2M205 330.5h2M207 329.5h2M209 328.5h2M211 327.5h2M213 326.5h2M215 325.5h2M217 324.5h1M218 323.5h2M220 322.5h1M221 321.5h2M223 320.5h2M225 319.5h1M226 318.5h2M228 317.5h2M230 316.5h2M232 315.5h2M234 314.5h2M236 313.5h2M238 312.5h2M240 311.5h2M242 310.5h2M244 309.5h2M246 308.5h2M248 307.5h2M250 306.5h1M251 305.5h2M253 304.5h2M255 303.5h1M256 302.5h2M258 301.5h2M260 300.5h1M261 299.5h2M263 298.5h2M265 297.5h1M266 296.5h2M268 295.5h2M270 294.5h1M271 293.5h2M273 292.5h2M275 291.5h1M276 290.5h2M278 289.5h1M279 288.5h2M281 287.5h1M282 286.5h2M284 285.5h1M285 284.5h2M287 283.5h1M288 282.5h2M290 281.5h2M292 280.5h1M293 279.5h2M295 278.5h1M296 277.5h2M298 276.5h2M300 275.5h1M301 274.5h2M303 273.5h2M305 272.5h2M307 271.5h1M308 270.5h2M310 269.5h2M312 268.5h1M313 267.5h2M315 266.5h2M317 265.5h2M319 264.5h1M320 263.5h2M322 262.5h2M324 261.5h2M326 260.5h2M328 259.5h1M329 258.5h2M331 257.5h2M333 256.5h2M335 255.5h1M336 254.5h2M338 253.5h2M340 252.5h2M342 251.5h1M343 250.5h2M345 249.5h2M347 248.5h2M349 247.5h2M351 246.5h1M352 245.5h2M354 244.5h2M356 243.5h2M358 242.5h1M359 241.5h2M361 240.5h2M363 239.5h2M365 238.5h2M367 237.5h2M369 236.5h2M371 235.5h2M373 234.5h2M375 233.5h1M376 232.5h2M378 231.5h1M379 230.5h1M380 229.5h2M382 228.5h1M383 227.5h1M384 226.5h2M386 225.5h2M388 224.5h2M390 223.5h2M392 222.5h2M394 221.5h2M396 220.5h2M398 219.5h2M400 218.5h2M402 217.5h2M404 216.5h2M406 215.5h2M408 214.5h2M410 213.5h2M412 212.5h2M414 211.5h2M416 210.5h2M418 209.5h2M420 208.5h2M422 207.5h2M424 206.5h2M426 205.5h2M428 204.5h2M430 203.5h1M431 202.5h2M433 201.5h2M435 200.5h2M437 199.5h2M439 198.5h2M441 197.5h2M443 196.5h2M445 195.5h2M447 194.5h3M450 193.5h2M452 192.5h2M454 191.5h3M457 190.5h2M459 189.5h3M462 188.5h4M466 187.5h3M469 186.5h3M472 185.5h4M476 184.5h3M479 183.5h4M483 182.5h5M488 181.5h6M494 180.5h5M499 179.5h5M504 178.5h6M510 177.5h5M515 176.5h6M521 175.5h6M527 174.5h7M534 173.5h6M540 172.5h8M548 171.5h9M607 171.5h20M557 170.5h50M627 170.5h13M640 169.5h13M653 168.5h12M665 167.5h11M676 166.5h11M687 165.5h12M699 164.5h10M709 163.5h6M715 162.5h6M721 161.5h6M727 160.5h6M733 159.5h5M738 158.5h5M743 157.5h4M747 156.5h5M752 155.5h5M757 154.5h4M761 153.5h5M766 152.5h6M772 151.5h5M777 150.5h6M783 149.5h5M788 148.5h6M794 147.5h11M805 146.5h40M845 145.5h8M853 144.5h58M911 143.5h8M919 142.5h11M930 141.5h12M942 140.5h10M952 139.5h6M958 138.5h6M964 137.5h6M970 136.5h6M976 135.5h4M980 134.5h4M984 133.5h4M988 132.5h5M993 131.5h4M997 130.5h4M1001 129.5h4M1005 128.5h5M1010 127.5h4M1014 126.5h4M1018 125.5h4M1022 124.5h5M1027 123.5h4M1031 122.5h4M1035 121.5h4M1039 120.5h5M1044 119.5h5M1049 118.5h4M1053 117.5h5M1058 116.5h5M1063 115.5h4M1067 114.5h5M1072 113.5h5M1077 112.5h4M1081 111.5h5M1086 110.5h4M1090 109.5h4M1094 108.5h4M1098 107.5h4M1102 106.5h4M1106 105.5h4M1110 104.5h4M1114 103.5h5M1119 102.5h4M1123 101.5h5M1128 100.5h4M1132 99.5h4M1136 98.5h6M1142 97.5h6M1148 96.5h12M1160 95.5h11M1171 94.5h6M1177 93.5h3" fill="none" stroke="#ff00ff" stroke-width="1" shape-rendering="crispEdges"/>
<path d="M39.5 374v2M42.5 370v2M45.5 366v2M48.5 362v2M51.5 358v2M54.5 354v2M57.5 350v2M60.5 346v2M67.5 338v2M78.5 326v2M89.5 314v2M152.5 253v2M157.5 247v2M162.5 241v2M166.5 236v2M168.5 233v2M170.5 230v2M172.5 227v2M16 398.5h1M17 397.5h1M18 396.5h1M19 395.5h1M20 394.5h1M21 393.5h1M22 392.5h1M23 391.5h1M24 390.5h1M25 389.5h1M26 388.5h1M27 387.5h1M28 386.5h1M29 385.5h1M30 384.5h1M31 383.5h1M32 382.5h1M33 381.5h1M34 380.5h1M35 379.5h1M36 378.5h1M37 377.5h1M38 376.5h1M40 373.5h1M41 372.5h1M43 369.5h1M44 368.5h1M46 365.5h1M47 364.5h1M49 361.5h1M50 360.5h1M52 357.5h1M53 356.5h1M55 353.5h1M56 352.5h1M58 349.5h1M59 348.5h1M61 345.5h1M62 344.5h1M63 343.5h1M64 342.5h1M65 341.5h1M66 340.5h1M68 337.5h1M69 336.5h1M70 335.5h1M71 334.5h1M72 333.5h1M73 332.5h1M74 331.5h1M75 330.5h1M76 329.5h1M77 328.5h1M79 325.5h1M80 324.5h1M81 323.5h1M82 322.5h1M83 321.5h1M84 320.5h1M85 319.5h1M86 318.5h1M87 317.5h1M88 316.5h1M90 313.5h1M91 312.5h1M92 311.5h1M93 310.5h1M94 309.5h1M95 308.5h1M96 307.5h1M97 306.5h1M98 305.5h1M99 304.5h1M100 303.5h1M101 302.5h2M103 301.5h1M104 300.5h1M105 299.5h1M106 298.5h1M107 297.5h1M108 296.5h1M109 295.5h1M110 294.5h1M111 293.5h1M112 292.5h1M113 291.5h1M114 290.5h1M115 289.5h2M117 288.5h1M118 287.5h1M119 286.5h1M120 285.5h1M121 284.5h1M122 283.5h1M123 282.5h1M124 281.5h1M125 280.5h1M126 279.5h1M127 278.5h1M128 277.5h1M129 276.5h1M130 275.5h1M131 274.5h1M132 273.5h1M133 272.5h1M134 271.5h1M135 270.5h2M137 269.5h1M138 268.5h1M139 267.5h1M140 266.5h1M141 265.5h1M142 264.5h1M143 263.5h1M144 262.5h1M145 261.5h1M146 260.5h1M147 259.5h1M148 258.5h1M149 257.5h1M150 256.5h1M151 255.5h1M153 252.5h1M154 251.5h1M155 250.5h1M156 249.5h1M158 246.5h1M159 245.5h1M160 244.5h1M161 243.5h1M163 240.5h1M164 239.5h1M165 238.5h1M167 235.5h1M169 232.5h1M171 229.5h1M173 226.5h1M174 225.5h2M176 224.5h2M178 223.5h2M180 222.5h3M183 221.5h4M187 220.5h3M190 219.5h2M192 218.5h2M194 217.5h2M196 216.5h3M199 215.5h2M201 214.5h2M203 213.5h2M205 212.5h2M207 211.5h4M211 210.5h4M215 209.5h4M219 208.5h4M223 207.5h5M228 206.5h6M234 205.5h5M239 204.5h4M243 203.5h2M245 202.5h3M248 201.5h2M250 200.5h2M252 199.5h3M255 198.5h2M257 197.5h3M260 196.5h2M262 195.5h3M338 195.5h11M265 194.5h2M332 194.5h6M349 194.5h10M267 193.5h2M330 193.5h2M359 193.5h6M269 192.5h3M327 192.5h3M365 192.5h5M272 191.5h2M325 191.5h2M370 191.5h2M274 190.5h3M323 190.5h2M372 190.5h3M277 189.5h4M321 189.5h2M375 189.5h2M281 188.5h4M319 188.5h2M377 188.5h2M285 187.5h4M317 187.5h2M379 187.5h3M289 186.5h5M315 186.5h2M382 186.5h2M294 185.5h4M307 185.5h8M384 185.5h3M298 184.5h9M387 184.5h2M389 183.5h3M392 182.5h2M394 181.5h3M397 180.5h2M399 179.5h3M402 178.5h2M404 177.5h3M407 176.5h2M409 175.5h3M671 175.5h17M412 174.5h4M663 174.5h8M688 174.5h5M416 173.5h4M658 173.5h5M693 173.5h5M420 172.5h3M653 172.5h5M698 172.5h4M423 171.5h3M647 171.5h6M702 171.5h3M426 170.5h3M640 170.5h7M705 170.5h2M429 169.5h2M635 169.5h5M707 169.5h2M431 168.5h3M632 168.5h3M709 168.5h3M434 167.5h7M628 167.5h4M712 167.5h2M441 166.5h6M625 166.5h3M714 166.5h2M447 165.5h2M622 165.5h3M716 165.5h3M449 164.5h3M618 164.5h4M719 164.5h3M452 163.5h2M614 163.5h4M722 163.5h2M454 162.5h3M610 162.5h4M724 162.5h3M457 161.5h2M606 161.5h4M727 161.5h3M459 160.5h4M601 160.5h5M730 160.5h2M463 159.5h4M597 159.5h4M732 159.5h2M467 158.5h4M593 158.5h4M734 158.5h2M471 157.5h4M589 157.5h4M736 157.5h2M475 156.5h2M585 156.5h4M738 156.5h2M477 155.5h2M582 155.5h3M740 155.5h1M479 154.5h2M579 154.5h3M741 154.5h2M481 153.5h2M575 153.5h4M743 153.5h2M483 152.5h2M572 152.5h3M745 152.5h3M485 151.5h2M569 151.5h3M748 151.5h4M487 150.5h2M566 150.5h3M752 150.5h5M489 149.5h3M563 149.5h3M757 149.5h4M492 148.5h2M561 148.5h2M761 148.5h4M494 147.5h3M558 147.5h3M765 147.5h3M497 146.5h2M555 146.5h3M768 146.5h3M499 145.5h3M552 145.5h3M771 145.5h2M502 144.5h2M549 144.5h3M773 144.5h3M504 143.5h3M544 143.5h5M776 143.5h3M507 142.5h6M537 142.5h7M779 142.5h3M513 141.5h6M531 141.5h6M782 141.5h2M519 140.5h12M784 140.5h2M786 139.5h3M789 138.5h2M791 137.5h2M793 136.5h2M795 135.5h3M798 134.5h4M802 133.5h3M805 132.5h3M808 131.5h4M812 130.5h4M816 129.5h4M820 128.5h4M824 127.5h4M828 126.5h4M832 125.5h3M835 124.5h4M839 123.5h3M842 122.5h3M845 121.5h4M849 120.5h6M904 120.5h17M855 119.5h6M899 119.5h5M921 119.5h6M861 118.5h6M893 118.5h6M927 118.5h5M867 117.5h6M883 117.5h10M932 117.5h6M873 116.5h10M938 116.5h5M943 115.5h5M948 114.5h4M952 113.5h5M957 112.5h5M962 111.5h4M966 110.5h5M971 109.5h5M976 108.5h6M982 107.5h6M988 106.5h6M994 105.5h6M1000 104.5h7M1007 103.5h6M1013 102.5h6M1019 101.5h6M1025 100.5h6M1031 99.5h5M1036 98.5h4M1040 97.5h4M1044 96.5h4M1048 95.5h4M1052 94.5h3M1055 93.5h4M1059 92.5h3M1062 91.5h4M1066 90.5h4M1070 89.5h4M1074 88.5h3M1077 87.5h3M1080 86.5h4M1084 85.5h3M1087 84.5h3M1090 83.5h4M1094 82.5h5M1099 81.5h5M1104 80.5h5M1109 79.5h5M1114 78.5h6M1120 77.5h6M1126 76.5h6M1132 75.5h6M1138 74.5h8M1146 73.5h8M1154 72.5h7M1161 71.5h6M1167 70.5h6M1173 69.5h6M1179 68.5h4" fill="none" stroke="#ff0000" stroke-width="1" shape-rendering="crispEdges"/>
<path d="M4.5 530v2M2 533.5h1M3 532.5h1M5 529.5h1M6 528.5h1M12.5 520v2M10 523.5h1M11 522.5h1M13 519.5h1M14 518.5h1M18 513.5h1M19 512.5h1M20 511.5h1M21 510.5h1M22 509.5h1M26 504.5h1M27 503.5h1M28 502.5h1M29 501.5h1M30 500.5h1M36.5 493v2M34 496.5h1M35 495.5h1M37 492.5h1M38 491.5h1M42 487.5h1M43 486.5h1M44 485.5h1M45 484.5h1M46 483.5h1M52.5 476v2M50 479.5h1M51 478.5h1M53 475.5h1M54 474.5h1M58 470.5h1M59 469.5h1M60 468.5h1M61 467.5h1M62 466.5h1M66 462.5h1M67 461.5h1M68 460.5h1M69 459.5h1M70 458.5h1M74 453.5h1M75 452.5h1M76 451.5h1M77 450.5h1M78 449.5h1M82 445.5h1M83 444.5h1M84 443.5h1M85 442.5h1M86 441.5h1M90 440.5h2M92 439.5h2M94 438.5h1M98 436.5h3M101 435.5h2M106 434.5h3M109 433.5h2M114 432.5h3M117 433.5h2M122 433.5h5M130 434.5h5M138 435.5h5M146 435.5h5M154 435.5h3M157 434.5h2M162 433.5h5M170 431.5h3M173 430.5h2M178 428.5h3M181 427.5h2M186 427.5h5M194 427.5h5M202 427.5h3M205 428.5h2M210 430.5h3M213 431.5h2M218 433.5h2M220 434.5h2M222 435.5h1M226 438.5h1M227 439.5h1M228 440.5h1M229 441.5h1M230 442.5h1M234 445.5h1M235 446.5h2M237 447.5h1M238 448.5h1M242 452.5h1M243 453.5h1M244 454.5h1M245 455.5h1M246 456.5h1M250 459.5h1M251 460.5h1M252 461.5h1M253 462.5h1M254 463.5h1M258 465.5h2M260 466.5h2M262 467.5h1M266 470.5h2M268 471.5h2M270 472.5h1M274 474.5h2M276 475.5h2M278 476.5h1M282 478.5h3M285 479.5h2M290 481.5h3M293 482.5h2M298 483.5h2M300 484.5h2M302 485.5h1M306 486.5h3M309 487.5h2M314 488.5h2M316 489.5h2M318 490.5h1M322 492.5h2M324 493.5h2M326 494.5h1M330 497.5h2M332 498.5h2M334 499.5h1M338 501.5h3M341 502.5h2M346 504.5h3M349 505.5h2M354 507.5h2M356 508.5h2M358 509.5h1M362 510.5h3M365 511.5h2M370 511.5h3M373 512.5h2M378 512.5h5M386 512.5h3M389 511.5h2M394 510.5h2M396 509.5h2M398 508.5h1M402 506.5h3M405 505.5h2M410 503.5h2M412 502.5h2M414 501.5h1M418 499.5h3M421 498.5h2M426 496.5h2M428 495.5h2M430 494.5h1M434 493.5h2M436 492.5h2M438 491.5h1M442 490.5h3M445 489.5h2M450 488.5h5M458 488.5h3M461 487.5h2M466 488.5h5M474 489.5h5M482 490.5h5M490 491.5h2M492 492.5h2M494 493.5h1M498 494.5h3M501 495.5h2M506 497.5h3M509 498.5h2M514 500.5h3M517 501.5h2M522 502.5h2M524 503.5h2M526 504.5h1M530 506.5h2M532 507.5h2M534 508.5h1M538 511.5h2M540 512.5h2M542 513.5h1M546 515.5h1M547 516.5h2M549 517.5h1M550 518.5h1M554 520.5h1M555 521.5h2M557 522.5h1M558 523.5h1M562 525.5h2M564 526.5h2M566 527.5h1M570 530.5h2M572 531.5h2M574 532.5h1M578 535.5h1M579 536.5h2M581 537.5h1M582 538.5h1M586 540.5h1M587 541.5h2M589 542.5h1M590 543.5h1M594 545.5h3M597 546.5h2M602 547.5h3M605 548.5h2M610 549.5h3M613 550.5h2M618 551.5h3M621 552.5h2M626 553.5h5M634 553.5h3M637 554.5h2M642 554.5h5M650 553.5h5M658 553.5h5M666 552.5h5M674 551.5h5M682 549.5h3M685 548.5h2M690 547.5h3M693 546.5h2M698 544.5h2M700 543.5h2M702 542.5h1M706 540.5h3M709 539.5h2M714 537.5h2M716 536.5h2M718 535.5h1M722 533.5h2M724 532.5h2M726 531.5h1M730 528.5h2M732 527.5h2M734 526.5h1M738 523.5h2M740 522.5h2M742 521.5h1M746 519.5h1M747 518.5h2M749 517.5h1M750 516.5h1M754 514.5h2M756 513.5h2M758 512.5h1M762 511.5h3M765 510.5h2M770 508.5h3M773 507.5h2M778 506.5h3M781 505.5h2M786 504.5h5M794 504.5h5M802 504.5h5M810 505.5h5M818 506.5h3M821 507.5h2M826 508.5h3M829 509.5h2M834 510.5h5M842 511.5h3M845 512.5h2M850 512.5h3M853 513.5h2M858 513.5h3M861 514.5h2M866 514.5h3M869 515.5h2M874 515.5h3M877 516.5h2M882 517.5h3M885 518.5h2M890 518.5h3M893 519.5h2M898 519.5h3M901 520.5h2M906 521.5h3M909 522.5h2M914 523.5h5M922 524.5h5M930 524.5h5M938 525.5h5M946 524.5h5M954 523.5h3M957 522.5h2M962 521.5h3M965 520.5h2M970 519.5h3M973 518.5h2M978 517.5h5M986 516.5h5M994 515.5h5M1002 514.5h5M1010 513.5h5M1018 513.5h5M1026 513.5h5M1034 513.5h5M1042 513.5h5M1050 513.5h5M1058 513.5h5M1066 513.5h5M1074 513.5h5M1082 513.5h3M1085 514.5h2M1090 514.5h5M1098 513.5h5M1106 513.5h5M1114 513.5h3M1117 512.5h2M1122 512.5h5M1130 512.5h5M1138 512.5h3M1141 511.5h2M1146 511.5h5M1154 511.5h5M1162 511.5h5M1170 512.5h5M1178 513.5h2M1180 514.5h2M1182 515.5h1" fill="none" stroke="#ff0000" stroke-width="1" shape-rendering="crispEdges"/>
<path d="M8.5 607v2M150.5 597v2M154.5 592v2M160.5 594v2M173.5 601v2M176.5 605v2M179.5 609v2M310.5 615v2M314.5 620v2M517.5 619v2M520.5 623v2M523.5 627v2M568.5 626v2M869.5 608v2M872.5 612v2M875.5 616v2M1117.5 596v2M1119.5 599v2M1121.5 602v2M1123.5 605v2M4 612.5h1M181 612.5h2M248 612.5h2M259 612.5h6M271 612.5h4M277 612.5h2M362 612.5h2M478 612.5h3M498 612.5h1M507 612.5h2M676 612.5h2M691 612.5h6M803 612.5h2M836 612.5h2M915 612.5h1M969 612.5h1M979 612.5h6M1155 612.5h1M5 611.5h1M180 611.5h1M250 611.5h2M255 611.5h4M275 611.5h2M364 611.5h5M451 611.5h11M475 611.5h3M499 611.5h1M503 611.5h4M678 611.5h3M689 611.5h2M697 611.5h4M756 611.5h5M799 611.5h4M838 611.5h3M871 611.5h1M916 611.5h2M967 611.5h2M985 611.5h12M1154 611.5h1M6 610.5h1M252 610.5h3M369 610.5h4M447 610.5h4M462 610.5h3M473 610.5h2M500 610.5h3M681 610.5h2M686 610.5h3M701 610.5h2M754 610.5h2M761 610.5h5M796 610.5h3M841 610.5h2M860 610.5h2M870 610.5h1M918 610.5h2M965 610.5h2M997 610.5h2M1153 610.5h1M7 609.5h1M99 609.5h4M373 609.5h2M436 609.5h11M465 609.5h2M470 609.5h3M683 609.5h3M703 609.5h2M752 609.5h2M766 609.5h3M794 609.5h2M843 609.5h3M858 609.5h2M862 609.5h3M920 609.5h2M964 609.5h1M999 609.5h2M1060 609.5h5M1140 609.5h2M1151 609.5h2M9 606.5h1M24 606.5h2M32 606.5h2M82 606.5h2M89 606.5h5M111 606.5h4M378 606.5h2M418 606.5h2M422 606.5h3M431 606.5h2M708 606.5h2M747 606.5h1M787 606.5h3M851 606.5h3M935 606.5h4M961 606.5h1M1004 606.5h13M1023 606.5h4M1040 606.5h2M1056 606.5h1M1079 606.5h4M1126 606.5h3M1135 606.5h2M1147 606.5h2M10 605.5h1M22 605.5h2M34 605.5h2M80 605.5h2M115 605.5h6M380 605.5h11M416 605.5h2M425 605.5h2M429 605.5h2M710 605.5h2M746 605.5h1M939 605.5h4M959 605.5h2M1017 605.5h6M1042 605.5h2M1055 605.5h1M1083 605.5h2M1129 605.5h2M1133 605.5h2M11 604.5h1M17 604.5h5M36 604.5h5M78 604.5h2M121 604.5h5M175 604.5h1M391 604.5h4M414 604.5h2M427 604.5h2M712 604.5h2M745 604.5h1M943 604.5h4M958 604.5h1M1044 604.5h5M1053 604.5h2M1085 604.5h1M1122 604.5h1M1131 604.5h2M12 603.5h5M41 603.5h5M76 603.5h2M126 603.5h2M174 603.5h1M395 603.5h19M714 603.5h2M743 603.5h2M947 603.5h6M957 603.5h1M1049 603.5h4M1086 603.5h1M26 607.5h2M30 607.5h2M84 607.5h5M94 607.5h3M107 607.5h4M177 607.5h1M377 607.5h1M420 607.5h2M433 607.5h1M706 607.5h2M748 607.5h2M771 607.5h6M783 607.5h4M790 607.5h2M849 607.5h2M854 607.5h2M867 607.5h2M924 607.5h11M962 607.5h1M1002 607.5h2M1027 607.5h6M1038 607.5h2M1057 607.5h2M1073 607.5h6M1124 607.5h2M1137 607.5h1M1145 607.5h2M1149 607.5h1M28 608.5h2M97 608.5h2M103 608.5h4M178 608.5h1M375 608.5h2M434 608.5h2M467 608.5h3M705 608.5h1M750 608.5h2M769 608.5h2M777 608.5h6M792 608.5h2M846 608.5h3M856 608.5h2M865 608.5h2M922 608.5h2M963 608.5h1M1001 608.5h1M1033 608.5h5M1059 608.5h1M1065 608.5h8M1138 608.5h2M1142 608.5h3M1150 608.5h1M46 602.5h3M74 602.5h2M128 602.5h2M716 602.5h2M742 602.5h1M953 602.5h4M1087 602.5h2M49 601.5h2M72 601.5h2M130 601.5h2M718 601.5h3M741 601.5h1M1089 601.5h1M1120 601.5h1M51 600.5h6M70 600.5h2M132 600.5h2M147 600.5h2M169 600.5h4M721 600.5h2M739 600.5h2M1090 600.5h1M57 599.5h13M134 599.5h3M145 599.5h2M149 599.5h1M164 599.5h5M723 599.5h6M735 599.5h4M1091 599.5h1M1107 599.5h3M137 598.5h2M142 598.5h3M163 598.5h1M729 598.5h6M1092 598.5h5M1103 598.5h4M1110 598.5h2M1118 598.5h1M139 597.5h3M162 597.5h1M1097 597.5h6M1112 597.5h2M151 596.5h1M161 596.5h1M1114 596.5h2M152 595.5h1M1116 595.5h1M153 594.5h1M155 591.5h1M157 591.5h1M156 590.5h1M158 592.5h1M159 593.5h1M183 613.5h1M196 613.5h9M235 613.5h6M246 613.5h2M265 613.5h6M279 613.5h1M300 613.5h9M361 613.5h1M481 613.5h2M497 613.5h1M509 613.5h2M675 613.5h1M805 613.5h2M834 613.5h2M914 613.5h1M970 613.5h2M975 613.5h4M1156 613.5h11M184 614.5h1M194 614.5h2M205 614.5h2M220 614.5h5M231 614.5h4M241 614.5h5M280 614.5h1M298 614.5h2M309 614.5h1M348 614.5h3M359 614.5h2M483 614.5h3M495 614.5h2M511 614.5h1M673 614.5h2M807 614.5h2M832 614.5h2M873 614.5h1M913 614.5h1M972 614.5h3M1167 614.5h4M185 615.5h2M192 615.5h2M207 615.5h2M218 615.5h2M225 615.5h6M281 615.5h2M296 615.5h2M346 615.5h2M351 615.5h4M357 615.5h2M486 615.5h3M494 615.5h1M512 615.5h1M672 615.5h1M809 615.5h1M830 615.5h2M874 615.5h1M911 615.5h2M1171 615.5h10M187 616.5h1M190 616.5h2M209 616.5h1M216 616.5h2M283 616.5h1M294 616.5h2M344 616.5h2M355 616.5h2M489 616.5h2M493 616.5h1M513 616.5h2M671 616.5h1M810 616.5h2M817 616.5h13M910 616.5h1M188 617.5h2M210 617.5h2M214 617.5h2M284 617.5h10M311 617.5h1M342 617.5h2M491 617.5h2M515 617.5h1M669 617.5h2M812 617.5h5M909 617.5h1M212 618.5h2M312 618.5h1M340 618.5h2M516 618.5h1M667 618.5h2M876 618.5h1M908 618.5h1M313 619.5h1M338 619.5h2M596 619.5h2M665 619.5h2M877 619.5h2M907 619.5h1M315 622.5h1M318 622.5h3M331 622.5h3M519 622.5h1M564 622.5h1M593 622.5h1M602 622.5h2M639 622.5h4M881 622.5h2M888 622.5h2M895 622.5h1M904 622.5h1M316 623.5h2M563 623.5h1M565 623.5h1M591 623.5h2M604 623.5h9M635 623.5h4M883 623.5h1M886 623.5h2M896 623.5h1M903 623.5h1M321 621.5h2M327 621.5h4M334 621.5h2M518 621.5h1M594 621.5h1M600 621.5h2M643 621.5h6M657 621.5h5M880 621.5h1M890 621.5h2M893 621.5h2M905 621.5h1M323 620.5h4M336 620.5h2M595 620.5h1M598 620.5h2M649 620.5h8M662 620.5h3M879 620.5h1M892 620.5h1M906 620.5h1M521 625.5h1M561 625.5h1M567 625.5h1M589 625.5h1M614 625.5h1M630 625.5h3M899 625.5h1M901 625.5h1M522 626.5h1M560 626.5h1M587 626.5h2M615 626.5h1M628 626.5h2M900 626.5h1M524 629.5h5M535 629.5h4M543 629.5h4M557 629.5h1M570 629.5h1M577 629.5h2M618 629.5h1M623 629.5h2M529 630.5h6M547 630.5h10M571 630.5h1M574 630.5h3M619 630.5h1M621 630.5h2M539 628.5h4M558 628.5h1M569 628.5h1M579 628.5h4M617 628.5h1M625 628.5h1M559 627.5h1M583 627.5h4M616 627.5h1M626 627.5h2M562 624.5h1M566 624.5h1M590 624.5h1M613 624.5h1M633 624.5h2M884 624.5h2M897 624.5h2M902 624.5h1M572 631.5h2M620 631.5h1" fill="none" stroke="#1e90ff" stroke-width="1" shape-rendering="crispEdges"/></g>
<rect x="4" y="97" width="1196" height="2" fill="#00d000"/>
<rect x="4" y="209" width="1197" height="2" fill="#4056e6"/>
<rect x="4" y="283" width="1197" height="2" fill="#4056e6"/>
<rect x="1199" y="68" width="1" height="1" fill="#c0c0c0"/>
<rect x="1200" y="33" width="2" height="1" fill="#000"/>
<text class="t" transform="translate(1204.60 37.00) scale(0.921 1)" style="font-size:9.80px;fill:#000;stroke:#000;stroke-width:0.14px" xml:space="preserve">3720.540</text>
<rect x="1200" y="132" width="2" height="1" fill="#000"/>
<text class="t" transform="translate(1204.60 136.00) scale(0.921 1)" style="font-size:9.80px;fill:#000;stroke:#000;stroke-width:0.14px" xml:space="preserve">3613.540</text>
<rect x="1200" y="165" width="2" height="1" fill="#000"/>
<text class="t" transform="translate(1204.60 169.00) scale(0.921 1)" style="font-size:9.80px;fill:#000;stroke:#000;stroke-width:0.14px" xml:space="preserve">3578.230</text>
<rect x="1200" y="198" width="2" height="1" fill="#000"/>
<text class="t" transform="translate(1204.60 202.00) scale(0.921 1)" style="font-size:9.80px;fill:#000;stroke:#000;stroke-width:0.14px" xml:space="preserve">3542.920</text>
<rect x="1200" y="231" width="2" height="1" fill="#000"/>
<text class="t" transform="translate(1204.60 235.00) scale(0.921 1)" style="font-size:9.80px;fill:#000;stroke:#000;stroke-width:0.14px" xml:space="preserve">3507.610</text>
<rect x="1200" y="264" width="2" height="1" fill="#000"/>
<text class="t" transform="translate(1204.60 268.00) scale(0.921 1)" style="font-size:9.80px;fill:#000;stroke:#000;stroke-width:0.14px" xml:space="preserve">3471.230</text>
<rect x="1200" y="297" width="2" height="1" fill="#000"/>
<text class="t" transform="translate(1204.60 301.00) scale(0.921 1)" style="font-size:9.80px;fill:#000;stroke:#000;stroke-width:0.14px" xml:space="preserve">3435.920</text>
<rect x="1200" y="330" width="2" height="1" fill="#000"/>
<text class="t" transform="translate(1204.60 334.00) scale(0.921 1)" style="font-size:9.80px;fill:#000;stroke:#000;stroke-width:0.14px" xml:space="preserve">3400.610</text>
<rect x="1200" y="363" width="2" height="1" fill="#000"/>
<text class="t" transform="translate(1204.60 367.00) scale(0.921 1)" style="font-size:9.80px;fill:#000;stroke:#000;stroke-width:0.14px" xml:space="preserve">3365.300</text>
<rect x="1200" y="396" width="2" height="1" fill="#000"/>
<text class="t" transform="translate(1204.60 400.00) scale(0.921 1)" style="font-size:9.80px;fill:#000;stroke:#000;stroke-width:0.14px" xml:space="preserve">3329.990</text>
<rect x="1202" y="63" width="44" height="11" fill="#000"/>
<rect x="1200" y="67" width="2" height="1" fill="#000"/>
<text class="t" transform="translate(1204.60 72.00) scale(0.921 1)" style="font-size:9.80px;fill:#fff;stroke:#fff;stroke-width:0.14px" xml:space="preserve">3682.250</text>
<rect x="1202" y="92" width="44" height="11" fill="#00d000"/>
<rect x="1200" y="99" width="2" height="1" fill="#000"/>
<text class="t" transform="translate(1204.60 101.00) scale(0.921 1)" style="font-size:9.80px;fill:#fff;stroke:#fff;stroke-width:0.14px" xml:space="preserve">3650.000</text>
<rect x="1202" y="204" width="44" height="11" fill="#4056e6"/>
<text class="t" transform="translate(1204.60 213.00) scale(0.921 1)" style="font-size:9.80px;fill:#fff;stroke:#fff;stroke-width:0.14px" xml:space="preserve">3530.000</text>
<rect x="1202" y="278" width="44" height="11" fill="#4056e6"/>
<text class="t" transform="translate(1204.60 287.00) scale(0.921 1)" style="font-size:9.80px;fill:#fff;stroke:#fff;stroke-width:0.14px" xml:space="preserve">3450.000</text>
<rect x="1200" y="403" width="1" height="1" fill="#000"/>
<rect x="1200" y="563" width="1" height="1" fill="#000"/>
<rect x="1200" y="568" width="1" height="1" fill="#000"/>
<rect x="1200" y="673" width="1" height="1" fill="#000"/>
<text class="t" transform="translate(1202.70 412.00) scale(0.921 1)" style="font-size:9.80px;fill:#000;stroke:#000;stroke-width:0.14px" xml:space="preserve">58.1573</text>
<rect x="1200" y="540" width="2" height="1" fill="#000"/>
<text class="t" transform="translate(1202.70 544.00) scale(0.921 1)" style="font-size:9.80px;fill:#000;stroke:#000;stroke-width:0.14px" xml:space="preserve">0.00</text>
<text class="t" transform="translate(1202.70 561.00) scale(0.921 1)" style="font-size:9.80px;fill:#000;stroke:#000;stroke-width:0.14px" xml:space="preserve">-9.9395</text>
<text class="t" transform="translate(1203.30 577.00) scale(0.921 1)" style="font-size:9.80px;fill:#000;stroke:#000;stroke-width:0.14px" xml:space="preserve">100</text>
<text class="t" transform="translate(1203.30 603.00) scale(0.921 1)" style="font-size:9.80px;fill:#000;stroke:#000;stroke-width:0.14px" xml:space="preserve">70</text>
<text class="t" transform="translate(1203.30 646.00) scale(0.921 1)" style="font-size:9.80px;fill:#000;stroke:#000;stroke-width:0.14px" xml:space="preserve">30</text>
<text class="t" transform="translate(1203.30 671.00) scale(0.921 1)" style="font-size:9.80px;fill:#000;stroke:#000;stroke-width:0.14px" xml:space="preserve">0</text>
<path d="M5 599.5 H1199" stroke="#c0c0c0" stroke-dasharray="3 3" fill="none"/>
<path d="M5 642.5 H1199" stroke="#c0c0c0" stroke-dasharray="3 3" fill="none"/>
<path d="M7 36 L14.5 36 L10.75 40.5 Z" fill="#000"/>
<text class="t" transform="translate(18.50 41.20) scale(0.941 1)" style="font-size:9.80px;fill:#000;stroke:#000;stroke-width:0.14px" xml:space="preserve">SP500-,H4  3681.750 3682.750 3677.250 3682.250</text>
<text class="t" transform="translate(7.60 414.00) scale(0.961 1)" style="font-size:9.80px;fill:#000;stroke:#000;stroke-width:0.14px" xml:space="preserve">MACD(12,26,9) 8.2276 11.1991</text>
<text class="t" transform="translate(7.60 579.00) scale(0.947 1)" style="font-size:9.80px;fill:#000;stroke:#000;stroke-width:0.14px" xml:space="preserve">RSI(14) 55.5832</text>
<rect x="4" y="675" width="1" height="3" fill="#000"/>
<text class="t" transform="translate(2.70 686.80) scale(0.975 1)" style="font-size:9.80px;fill:#000;stroke:#000;stroke-width:0.14px" xml:space="preserve">4 Nov 2020</text>
<rect x="68" y="675" width="1" height="3" fill="#000"/>
<text class="t" transform="translate(66.70 686.80) scale(0.975 1)" style="font-size:9.80px;fill:#000;stroke:#000;stroke-width:0.14px" xml:space="preserve">5 Nov 16:00</text>
<rect x="132" y="675" width="1" height="3" fill="#000"/>
<text class="t" transform="translate(130.70 686.80) scale(0.975 1)" style="font-size:9.80px;fill:#000;stroke:#000;stroke-width:0.14px" xml:space="preserve">8 Nov 23:00</text>
<rect x="196" y="675" width="1" height="3" fill="#000"/>
<text class="t" transform="translate(194.70 686.80) scale(0.975 1)" style="font-size:9.80px;fill:#000;stroke:#000;stroke-width:0.14px" xml:space="preserve">10 Nov 04:00</text>
<rect x="260" y="675" width="1" height="3" fill="#000"/>
<text class="t" transform="translate(258.70 686.80) scale(0.975 1)" style="font-size:9.80px;fill:#000;stroke:#000;stroke-width:0.14px" xml:space="preserve">11 Nov 12:00</text>
<rect x="324" y="675" width="1" height="3" fill="#000"/>
<text class="t" transform="translate(322.70 686.80) scale(0.975 1)" style="font-size:9.80px;fill:#000;stroke:#000;stroke-width:0.14px" xml:space="preserve">12 Nov 20:00</text>
<rect x="388" y="675" width="1" height="3" fill="#000"/>
<text class="t" transform="translate(386.70 686.80) scale(0.975 1)" style="font-size:9.80px;fill:#000;stroke:#000;stroke-width:0.14px" xml:space="preserve">16 Nov 00:00</text>
<rect x="452" y="675" width="1" height="3" fill="#000"/>
<text class="t" transform="translate(450.70 686.80) scale(0.975 1)" style="font-size:9.80px;fill:#000;stroke:#000;stroke-width:0.14px" xml:space="preserve">17 Nov 08:00</text>
<rect x="516" y="675" width="1" height="3" fill="#000"/>
<text class="t" transform="translate(514.70 686.80) scale(0.975 1)" style="font-size:9.80px;fill:#000;stroke:#000;stroke-width:0.14px" xml:space="preserve">18 Nov 16:00</text>
<rect x="580" y="675" width="1" height="3" fill="#000"/>
<text class="t" transform="translate(578.70 686.80) scale(0.975 1)" style="font-size:9.80px;fill:#000;stroke:#000;stroke-width:0.14px" xml:space="preserve">20 Nov 00:00</text>
<rect x="644" y="675" width="1" height="3" fill="#000"/>
<text class="t" transform="translate(642.70 686.80) scale(0.975 1)" style="font-size:9.80px;fill:#000;stroke:#000;stroke-width:0.14px" xml:space="preserve">23 Nov 04:00</text>
<rect x="708" y="675" width="1" height="3" fill="#000"/>
<text class="t" transform="translate(706.70 686.80) scale(0.975 1)" style="font-size:9.80px;fill:#000;stroke:#000;stroke-width:0.14px" xml:space="preserve">24 Nov 12:00</text>
<rect x="772" y="675" width="1" height="3" fill="#000"/>
<text class="t" transform="translate(770.70 686.80) scale(0.975 1)" style="font-size:9.80px;fill:#000;stroke:#000;stroke-width:0.14px" xml:space="preserve">25 Nov 20:00</text>
<rect x="836" y="675" width="1" height="3" fill="#000"/>
<text class="t" transform="translate(834.70 686.80) scale(0.975 1)" style="font-size:9.80px;fill:#000;stroke:#000;stroke-width:0.14px" xml:space="preserve">27 Nov 04:00</text>
<rect x="900" y="675" width="1" height="3" fill="#000"/>
<text class="t" transform="translate(898.70 686.80) scale(0.975 1)" style="font-size:9.80px;fill:#000;stroke:#000;stroke-width:0.14px" xml:space="preserve">30 Nov 12:00</text>
<rect x="964" y="675" width="1" height="3" fill="#000"/>
<text class="t" transform="translate(962.70 686.80) scale(0.975 1)" style="font-size:9.80px;fill:#000;stroke:#000;stroke-width:0.14px" xml:space="preserve">1 Dec 20:00</text>
<rect x="1028" y="675" width="1" height="3" fill="#000"/>
<text class="t" transform="translate(1026.70 686.80) scale(0.975 1)" style="font-size:9.80px;fill:#000;stroke:#000;stroke-width:0.14px" xml:space="preserve">3 Dec 04:00</text>
<rect x="1092" y="675" width="1" height="3" fill="#000"/>
<text class="t" transform="translate(1090.70 686.80) scale(0.975 1)" style="font-size:9.80px;fill:#000;stroke:#000;stroke-width:0.14px" xml:space="preserve">4 Dec 12:00</text>
<rect x="1156" y="675" width="1" height="3" fill="#000"/>
<text class="t" transform="translate(1154.70 686.80) scale(0.975 1)" style="font-size:9.80px;fill:#000;stroke:#000;stroke-width:0.14px" xml:space="preserve">7 Dec 16:00</text>
<text x="780" y="347" style="font-family:&quot;Liberation Sans&quot;,&quot;Noto Sans CJK SC&quot;,sans-serif;font-weight:400;font-size:35.5px;fill:#ff1a1a;" shape-rendering="auto">多空转折点<tspan style="font-size:38px;letter-spacing:0.7px;stroke:#fff;stroke-width:0.6px">3650</tspan></text>
</svg></body></html>
